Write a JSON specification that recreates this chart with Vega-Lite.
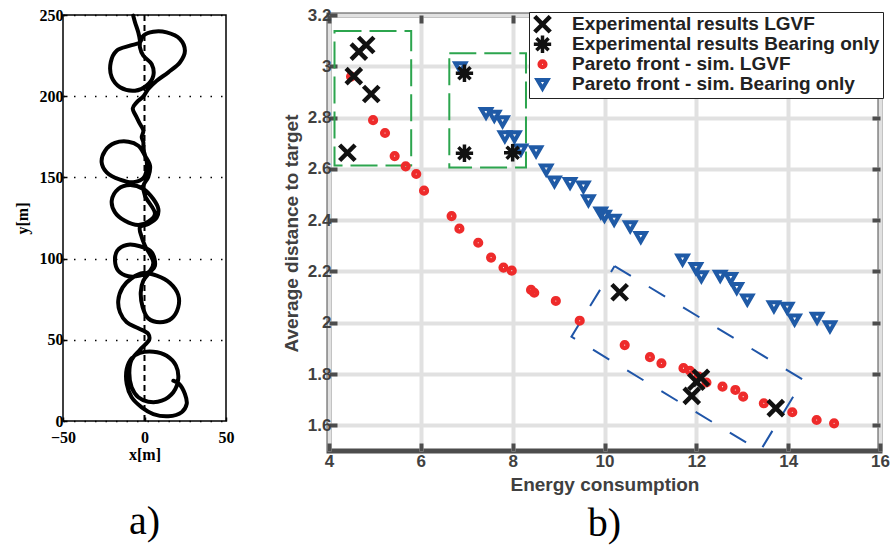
{
  "$schema": "https://vega.github.io/schema/vega-lite/v6.json",
  "background": "white",
  "padding": {"left": 13, "top": 3, "right": 0, "bottom": 0},
  "spacing": 44,
  "resolve": {"legend": {"color": "independent", "shape": "independent", "size": "independent", "strokeWidth": "independent"}},
  "datasets": {
    "traj": [
      {"i":1,"x":17.7,"y":24.8},{"i":2,"x":21.3,"y":22.8},{"i":3,"x":24.8,"y":16.6},{"i":4,"x":25.9,"y":10.5},{"i":5,"x":22.8,"y":5.4},
      {"i":6,"x":14.6,"y":2.9},{"i":7,"x":5.4,"y":4.3},{"i":8,"x":-1.7,"y":8.4},{"i":9,"x":-7.9,"y":14.6},{"i":10,"x":-10.9,"y":22.8},
      {"i":11,"x":-10.9,"y":32.0},{"i":12,"x":-7.9,"y":38.6},{"i":13,"x":-2.8,"y":41.9},{"i":14,"x":5.4,"y":42.7},{"i":15,"x":13.6,"y":40.2},
      {"i":16,"x":19.3,"y":34.1},{"i":17,"x":20.7,"y":25.9},{"i":18,"x":17.7,"y":17.7},{"i":19,"x":10.6,"y":12.5},{"i":20,"x":2.3,"y":11.9},
      {"i":21,"x":-3.8,"y":14.6},{"i":22,"x":-7.9,"y":20.8},{"i":23,"x":-9.3,"y":30.0},{"i":24,"x":-7.9,"y":37.7},{"i":25,"x":-2.8,"y":43.9},
      {"i":26,"x":2.9,"y":50.1},{"i":27,"x":2.3,"y":53.6},{"i":28,"x":-3.8,"y":57.1},{"i":29,"x":-10.9,"y":60.8},{"i":30,"x":-15.0,"y":66.9},
      {"i":31,"x":-16.1,"y":74.1},{"i":32,"x":-13.4,"y":82.3},{"i":33,"x":-7.9,"y":87.9},{"i":34,"x":-0.7,"y":91.1},{"i":35,"x":7.5,"y":89.5},
      {"i":36,"x":15.6,"y":85.0},{"i":37,"x":20.7,"y":77.6},{"i":38,"x":20.7,"y":70.0},{"i":39,"x":16.7,"y":63.2},{"i":40,"x":9.5,"y":60.8},
      {"i":41,"x":2.3,"y":63.2},{"i":42,"x":-1.1,"y":70.0},{"i":43,"x":-2.3,"y":79.2},{"i":44,"x":-0.7,"y":86.4},{"i":45,"x":3.4,"y":91.6},
      {"i":47,"x":6.4,"y":95.6},{"i":48,"x":4.4,"y":103.9},{"i":49,"x":-2.8,"y":107.6},{"i":50,"x":-10.9,"y":108.4},
      {"i":51,"x":-16.7,"y":104.9},{"i":52,"x":-18.1,"y":98.7},{"i":53,"x":-16.1,"y":92.5},{"i":54,"x":-9.9,"y":89.1},{"i":55,"x":-2.8,"y":89.5},
      {"i":56,"x":3.4,"y":92.5},{"i":57,"x":5.4,"y":97.7},{"i":58,"x":0.3,"y":107.9},{"i":59,"x":-1.7,"y":113.1},{"i":60,"x":-2.8,"y":119.3},
      {"i":61,"x":2.3,"y":121.3},{"i":62,"x":7.5,"y":125.4},{"i":63,"x":8.5,"y":130.5},{"i":64,"x":5.4,"y":136.7},{"i":65,"x":-0.7,"y":142.9},
      {"i":66,"x":-8.9,"y":145.3},{"i":67,"x":-16.1,"y":142.9},{"i":68,"x":-20.1,"y":135.7},{"i":69,"x":-18.1,"y":128.5},{"i":70,"x":-12.0,"y":123.3},
      {"i":71,"x":-3.8,"y":120.7},{"i":72,"x":2.3,"y":122.7},{"i":73,"x":6.4,"y":127.5},{"i":74,"x":0.3,"y":138.7},{"i":75,"x":-0.7,"y":144.9},
      {"i":76,"x":2.3,"y":150.2},{"i":77,"x":3.4,"y":157.2},{"i":78,"x":0.3,"y":163.4},{"i":79,"x":-3.8,"y":169.5},{"i":80,"x":-9.9,"y":172.0},
      {"i":81,"x":-18.1,"y":171.2},{"i":82,"x":-24.2,"y":166.4},{"i":83,"x":-26.3,"y":159.3},{"i":84,"x":-23.2,"y":153.1},{"i":85,"x":-15.0,"y":148.6},
      {"i":86,"x":-6.9,"y":147.0},{"i":87,"x":-0.7,"y":149.6},{"i":88,"x":1.5,"y":158.3},{"i":89,"x":-0.7,"y":167.5},{"i":90,"x":-0.7,"y":171.6},
      {"i":91,"x":-1.7,"y":174.7},{"i":92,"x":-0.7,"y":178.8},{"i":93,"x":-2.8,"y":182.9},{"i":94,"x":-4.8,"y":187.0},{"i":95,"x":-7.2,"y":192.5},
      {"i":96,"x":-4.8,"y":196.2},{"i":97,"x":-0.7,"y":199.9},{"i":98,"x":2.3,"y":204.4},{"i":99,"x":7.5,"y":209.5},{"i":100,"x":14.6,"y":214.7},
      {"i":101,"x":21.8,"y":220.9},{"i":102,"x":24.8,"y":228.0},{"i":103,"x":21.8,"y":235.2},{"i":104,"x":13.6,"y":239.3},{"i":105,"x":5.4,"y":239.7},
      {"i":106,"x":-0.7,"y":237.3},{"i":107,"x":-2.8,"y":233.2},{"i":108,"x":-8.9,"y":231.1},{"i":109,"x":-17.1,"y":228.0},{"i":110,"x":-20.7,"y":220.9},
      {"i":111,"x":-20.1,"y":211.6},{"i":112,"x":-15.0,"y":205.5},{"i":113,"x":-5.8,"y":203.4},{"i":114,"x":1.3,"y":206.5},{"i":115,"x":5.4,"y":212.6},
      {"i":116,"x":4.4,"y":219.8},{"i":117,"x":-0.7,"y":224.9},{"i":118,"x":-2.8,"y":230.1},{"i":119,"x":-2.8,"y":234.2},{"i":120,"x":-3.8,"y":239.3},
      {"i":121,"x":-5.8,"y":245.5},{"i":122,"x":-6.9,"y":249.6}
    ],
    "pts": [
      {"s":"Pareto front - sim. LGVF","E":4.48,"D":2.96},{"s":"Pareto front - sim. LGVF","E":4.96,"D":2.79},{"s":"Pareto front - sim. LGVF","E":5.22,"D":2.74},
      {"s":"Pareto front - sim. LGVF","E":5.43,"D":2.65},{"s":"Pareto front - sim. LGVF","E":5.67,"D":2.61},{"s":"Pareto front - sim. LGVF","E":5.90,"D":2.58},
      {"s":"Pareto front - sim. LGVF","E":6.07,"D":2.515},{"s":"Pareto front - sim. LGVF","E":6.67,"D":2.416},{"s":"Pareto front - sim. LGVF","E":6.84,"D":2.367},
      {"s":"Pareto front - sim. LGVF","E":7.25,"D":2.312},{"s":"Pareto front - sim. LGVF","E":7.53,"D":2.254},{"s":"Pareto front - sim. LGVF","E":7.80,"D":2.215},
      {"s":"Pareto front - sim. LGVF","E":7.98,"D":2.203},{"s":"Pareto front - sim. LGVF","E":8.40,"D":2.128},{"s":"Pareto front - sim. LGVF","E":8.47,"D":2.117},
      {"s":"Pareto front - sim. LGVF","E":8.94,"D":2.085},{"s":"Pareto front - sim. LGVF","E":9.46,"D":2.008},{"s":"Pareto front - sim. LGVF","E":10.44,"D":1.913},
      {"s":"Pareto front - sim. LGVF","E":10.99,"D":1.866},{"s":"Pareto front - sim. LGVF","E":11.24,"D":1.842},{"s":"Pareto front - sim. LGVF","E":11.72,"D":1.823},
      {"s":"Pareto front - sim. LGVF","E":11.86,"D":1.813},{"s":"Pareto front - sim. LGVF","E":12.05,"D":1.79},{"s":"Pareto front - sim. LGVF","E":12.22,"D":1.767},
      {"s":"Pareto front - sim. LGVF","E":12.57,"D":1.751},{"s":"Pareto front - sim. LGVF","E":12.85,"D":1.738},{"s":"Pareto front - sim. LGVF","E":13.02,"D":1.712},
      {"s":"Pareto front - sim. LGVF","E":13.47,"D":1.686},{"s":"Pareto front - sim. LGVF","E":14.09,"D":1.651},{"s":"Pareto front - sim. LGVF","E":14.62,"D":1.621},
      {"s":"Pareto front - sim. LGVF","E":15.0,"D":1.608},
      {"s":"Pareto front - sim. Bearing only","E":6.86,"D":2.995},{"s":"Pareto front - sim. Bearing only","E":7.42,"D":2.817},{"s":"Pareto front - sim. Bearing only","E":7.60,"D":2.806},
      {"s":"Pareto front - sim. Bearing only","E":7.78,"D":2.784},{"s":"Pareto front - sim. Bearing only","E":7.83,"D":2.726},{"s":"Pareto front - sim. Bearing only","E":8.04,"D":2.726},
      {"s":"Pareto front - sim. Bearing only","E":8.18,"D":2.674},{"s":"Pareto front - sim. Bearing only","E":8.51,"D":2.667},{"s":"Pareto front - sim. Bearing only","E":8.73,"D":2.596},
      {"s":"Pareto front - sim. Bearing only","E":8.91,"D":2.55},{"s":"Pareto front - sim. Bearing only","E":9.25,"D":2.544},{"s":"Pareto front - sim. Bearing only","E":9.54,"D":2.53},
      {"s":"Pareto front - sim. Bearing only","E":9.65,"D":2.476},{"s":"Pareto front - sim. Bearing only","E":9.92,"D":2.429},{"s":"Pareto front - sim. Bearing only","E":10.0,"D":2.416},
      {"s":"Pareto front - sim. Bearing only","E":10.21,"D":2.40},{"s":"Pareto front - sim. Bearing only","E":10.56,"D":2.375},{"s":"Pareto front - sim. Bearing only","E":10.79,"D":2.333},
      {"s":"Pareto front - sim. Bearing only","E":11.70,"D":2.245},{"s":"Pareto front - sim. Bearing only","E":11.99,"D":2.212},{"s":"Pareto front - sim. Bearing only","E":12.11,"D":2.18},
      {"s":"Pareto front - sim. Bearing only","E":12.52,"D":2.182},{"s":"Pareto front - sim. Bearing only","E":12.75,"D":2.173},{"s":"Pareto front - sim. Bearing only","E":12.88,"D":2.134},
      {"s":"Pareto front - sim. Bearing only","E":13.11,"D":2.089},{"s":"Pareto front - sim. Bearing only","E":13.69,"D":2.063},{"s":"Pareto front - sim. Bearing only","E":13.98,"D":2.057},
      {"s":"Pareto front - sim. Bearing only","E":14.14,"D":2.011},{"s":"Pareto front - sim. Bearing only","E":14.63,"D":2.018},{"s":"Pareto front - sim. Bearing only","E":14.91,"D":1.985},
      {"s":"Experimental results LGVF","E":4.40,"D":2.663},{"s":"Experimental results LGVF","E":4.54,"D":2.962},{"s":"Experimental results LGVF","E":4.65,"D":3.057},
      {"s":"Experimental results LGVF","E":4.81,"D":3.083},{"s":"Experimental results LGVF","E":4.92,"D":2.892},{"s":"Experimental results LGVF","E":10.33,"D":2.119},
      {"s":"Experimental results LGVF","E":11.90,"D":1.715},{"s":"Experimental results LGVF","E":12.0,"D":1.77},{"s":"Experimental results LGVF","E":12.1,"D":1.785},
      {"s":"Experimental results LGVF","E":13.73,"D":1.667},
      {"s":"Experimental results Bearing only","E":6.95,"D":2.973},{"s":"Experimental results Bearing only","E":6.95,"D":2.661},{"s":"Experimental results Bearing only","E":8.0,"D":2.663}
    ],
    "rects": [
      {"e1":4.12,"e2":5.79,"d1":2.613,"d2":3.138},
      {"e1":6.62,"e2":8.29,"d1":2.605,"d2":3.051}
    ],
    "poly": [
      {"i":1,"E":10.22,"D":2.221},{"i":2,"E":14.33,"D":1.777},{"i":3,"E":13.39,"D":1.5},{"i":4,"E":9.28,"D":1.946},{"i":5,"E":10.22,"D":2.221}
    ]
  },
  "hconcat": [
    {
      "width": 163,
      "height": 406,
      "view": {"stroke": "black", "strokeWidth": 1.5},
      "title": {"text": "a)", "orient": "bottom", "anchor": "middle", "frame": "group", "font": "Liberation Serif", "fontSize": 40, "fontWeight": "normal", "color": "black", "offset": 40},
      "layer": [
        {
          "data": {"values": [{"x": 0}]},
          "mark": {"type": "rule", "strokeDash": [6, 4], "strokeWidth": 2, "color": "black"},
          "encoding": {
            "x": {"field": "x", "type": "quantitative", "scale": {"domain": [-50, 50], "nice": false},
              "axis": {"values": [-50, 0, 50], "title": "x[m]", "grid": false, "domain": false, "tickSize": -4, "tickWidth": 1.5, "tickColor": "black", "labelFlush": false, "labelFont": "Liberation Serif", "labelFontWeight": "bold", "labelFontSize": 16, "labelColor": "black", "labelPadding": 12, "titleFont": "Liberation Serif", "titleFontWeight": "bold", "titleFontSize": 16, "titleColor": "black", "titlePadding": 1}}
          }
        },
        {
          "data": {"name": "traj"},
          "mark": {"type": "line", "interpolate": "catmull-rom", "strokeWidth": 4, "color": "black", "strokeJoin": "round", "strokeCap": "round"},
          "encoding": {
            "x": {"field": "x", "type": "quantitative", "scale": {"domain": [-50, 50], "nice": false},
              "axis": {"values": [-50, 0, 50], "title": "x[m]", "grid": false, "domain": false, "tickSize": -4, "tickWidth": 1.5, "tickColor": "black", "labelFlush": false, "labelFont": "Liberation Serif", "labelFontWeight": "bold", "labelFontSize": 16, "labelColor": "black", "labelPadding": 12, "titleFont": "Liberation Serif", "titleFontWeight": "bold", "titleFontSize": 16, "titleColor": "black", "titlePadding": 1}},
            "y": {"field": "y", "type": "quantitative", "scale": {"domain": [0, 250], "nice": false},
              "axis": {"values": [0, 50, 100, 150, 200, 250], "title": "y[m]", "grid": true, "gridColor": "black", "gridDash": [1.5, 9], "gridWidth": 1.5, "domain": false, "tickSize": -4, "tickWidth": 1.5, "tickColor": "black", "labelFlush": false, "labelFont": "Liberation Serif", "labelFontWeight": "bold", "labelFontSize": 16, "labelColor": "black", "labelPadding": 4, "titleFont": "Liberation Serif", "titleFontWeight": "bold", "titleFontSize": 16, "titleColor": "black", "titlePadding": 9}},
            "order": {"field": "i", "type": "quantitative"}
          }
        }
      ]
    },
    {
      "width": 551,
      "height": 436,
      "view": {"stroke": "#4d4d4d", "strokeWidth": 5},
      "title": {"text": "b)", "orient": "bottom", "anchor": "middle", "frame": "group", "font": "Liberation Serif", "fontSize": 40, "fontWeight": "normal", "color": "black", "offset": 10},
      "resolve": {"axis": {"x": "independent", "y": "independent"}},
      "layer": [
        {
          "data": {"name": "rects"},
          "mark": {"type": "rect", "filled": false, "color": "#2ca54e", "strokeWidth": 2, "strokeDash": [27, 8]},
          "encoding": {
            "x": {"field": "e1", "type": "quantitative", "scale": {"domain": [4, 16], "nice": false, "zero": false},
              "axis": {"values": [4, 6, 8, 10, 12, 14, 16], "title": "Energy consumption", "domain": false, "grid": true, "gridColor": "#e1e1e1", "gridWidth": 4, "tickSize": -8, "tickWidth": 4, "tickColor": "#4d4d4d", "labelFlush": false, "labelOverlap": false, "labelFont": "Liberation Sans", "labelFontSize": 17, "labelFontWeight": "bold", "labelColor": "#404040", "labelPadding": 10, "titleFont": "Liberation Sans", "titleFontSize": 19, "titleFontWeight": "bold", "titleColor": "#404040", "titlePadding": 6}},
            "x2": {"field": "e2"},
            "y": {"field": "d1", "type": "quantitative", "scale": {"domain": [1.5, 3.2], "nice": false, "zero": false},
              "axis": {"values": [1.6, 1.8, 2.0, 2.2, 2.4, 2.6, 2.8, 3.0, 3.2], "format": "~g", "title": "Average distance to target", "domain": false, "grid": true, "gridColor": "#e1e1e1", "gridWidth": 4, "tickSize": -8, "tickWidth": 4, "tickColor": "#4d4d4d", "labelFlush": false, "labelOverlap": false, "labelFont": "Liberation Sans", "labelFontSize": 17, "labelFontWeight": "bold", "labelColor": "#404040", "labelPadding": 6, "titleFont": "Liberation Sans", "titleFontSize": 19, "titleFontWeight": "bold", "titleColor": "#404040", "titlePadding": 6}},
            "y2": {"field": "d2"}
          }
        },
        {
          "data": {"name": "poly"},
          "mark": {"type": "line", "color": "#1f55a8", "strokeWidth": 2, "strokeDash": [19, 21]},
          "encoding": {
            "x": {"field": "E", "type": "quantitative", "scale": {"domain": [4, 16], "nice": false, "zero": false},
              "axis": {"orient": "top", "values": [4, 6, 8, 10, 12, 14, 16], "labels": false, "title": null, "domain": false, "grid": false, "tickSize": -8, "tickWidth": 4, "tickColor": "#4d4d4d"}},
            "y": {"field": "D", "type": "quantitative", "scale": {"domain": [1.5, 3.2], "nice": false, "zero": false},
              "axis": {"orient": "right", "values": [1.6, 1.8, 2.0, 2.2, 2.4, 2.6, 2.8, 3.0, 3.2], "labels": false, "title": null, "domain": false, "grid": false, "tickSize": -8, "tickWidth": 4, "tickColor": "#4d4d4d"}},
            "order": {"field": "i", "type": "quantitative"}
          }
        },
        {
          "data": {"name": "pts"},
          "mark": {"type": "point", "filled": false, "opacity": 1},
          "encoding": {
            "x": {"field": "E", "type": "quantitative", "scale": {"domain": [4, 16], "nice": false, "zero": false}, "axis": null},
            "y": {"field": "D", "type": "quantitative", "scale": {"domain": [1.5, 3.2], "nice": false, "zero": false}, "axis": null},
            "color": {"field": "s", "type": "nominal",
              "scale": {"domain": ["Experimental results LGVF", "Experimental results Bearing only", "Pareto front - sim. LGVF", "Pareto front - sim. Bearing only"], "range": ["#111111", "#111111", "#ee2b2b", "#1f5aa6"]},
              "legend": {"title": null, "orient": "top-right", "offset": -3, "padding": 3, "fillColor": "white", "strokeColor": "#222222", "labelFont": "Liberation Sans", "labelFontSize": 19, "labelFontWeight": "bold", "labelColor": "#222222", "labelOffset": 19, "rowPadding": 0, "clipHeight": 18.5, "labelLimit": 400}},
            "shape": {"field": "s", "type": "nominal",
              "scale": {"domain": ["Experimental results LGVF", "Experimental results Bearing only", "Pareto front - sim. LGVF", "Pareto front - sim. Bearing only"], "range": ["M-1,-1L1,1M-1,1L1,-1", "M0,-1L0,1M-1,0L1,0M-0.7,-0.7L0.7,0.7M-0.7,0.7L0.7,-0.7", "circle", "triangle-down"]}},
            "size": {"field": "s", "type": "nominal",
              "scale": {"type": "ordinal", "domain": ["Experimental results LGVF", "Experimental results Bearing only", "Pareto front - sim. LGVF", "Pareto front - sim. Bearing only"], "range": [240, 300, 32, 100]}},
            "strokeWidth": {"field": "s", "type": "nominal",
              "scale": {"type": "ordinal", "domain": ["Experimental results LGVF", "Experimental results Bearing only", "Pareto front - sim. LGVF", "Pareto front - sim. Bearing only"], "range": [4.5, 3.5, 4.5, 4]}}
          }
        }
      ]
    }
  ]
}
